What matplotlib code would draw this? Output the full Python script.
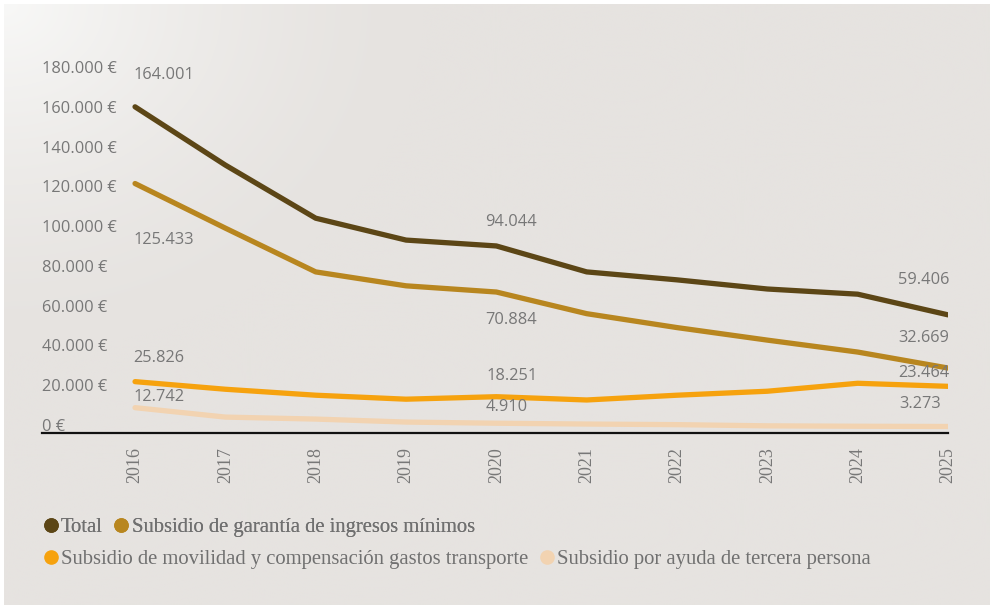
import numpy as np
import matplotlib
matplotlib.use("Agg")
import matplotlib.pyplot as plt
from matplotlib.lines import Line2D
import matplotlib.transforms as mtransforms

# datos
years = ["2016", "2017", "2018", "2019", "2020", "2021", "2022", "2023", "2024", "2025"]
total = [164001, 134700, 108000, 97000, 94044, 81000, 77000, 72400, 69800, 59406]
garantia = [125433, 103000, 81000, 74000, 70884, 60000, 53000, 46700, 40700, 32669]
movilidad = [25826, 22000, 19000, 17000, 18251, 16600, 19000, 21000, 25000, 23464]
tercera = [12742, 8000, 7000, 5500, 4910, 4500, 4200, 3600, 3400, 3273]

names = ["Total",
         "Subsidio de garantía de ingresos mínimos",
         "Subsidio de movilidad y compensación gastos transporte",
         "Subsidio por ayuda de tercera persona"]
colors = ["#5c4616", "#b8861f", "#f6a20e", "#f2d3b1"]
yticks = [0, 20000, 40000, 60000, 80000, 100000, 120000, 140000, 160000, 180000]

# etiquetas: índice del punto -> (dx, dy, ha) en píxeles
label_pos = [
    {0: (-2, 32, "left"), 4: (-11, 24, "left"), 9: (1, 35, "right")},
    {0: (-2, -56, "left"), 4: (-11, -28, "left"), 9: (1, 30, "right")},
    {0: (-2, 24, "left"), 4: (-10, 21, "left"), 9: (1, 13, "right")},
    {0: (-2, 11, "left"), 4: (-11, 16, "left"), 9: (-7, 22, "right")},
]

W, H = 990, 605
fig = plt.figure(figsize=(W / 100, H / 100), dpi=100, facecolor="white")

# fondo con degradado
bg = fig.add_axes([4 / W, 0, 1 - 4 / W, 1 - 4 / H])
yy, xx = np.mgrid[0:H, 0:W]
r = np.sqrt(xx ** 2 + (yy * 1.2) ** 2)
t = np.clip(1 - r / 420, 0, 1) ** 1.5
base = np.array([230, 227, 224]) / 255
light = np.array([248, 248, 247]) / 255
img = base[None, None, :] + (light - base)[None, None, :] * t[:, :, None]
bg.imshow(img, aspect="auto", extent=[0, 1, 0, 1])
bg.axis("off")

ax = fig.add_axes([42 / W, (H - 433) / H, (948 - 42) / W, (433 - 75) / H])
ax.patch.set_alpha(0)

series = [total, garantia, movilidad, tercera]
x = np.arange(len(years))
for s, c in zip(series, colors):
    ax.plot(x, s, color=c, lw=3.8, solid_capstyle="round", solid_joinstyle="round")

for s, pos in zip(series, label_pos):
    for i, (dx, dy, ha) in pos.items():
        ax.annotate(f"{s[i]:,}".replace(",", "."), (x[i], s[i]),
                    xytext=(dx, dy), textcoords="offset pixels",
                    ha=ha, va="center", fontsize=11.8, family="Open Sans",
                    color="#777777")

ax.set_xlim(-1.03, 9)
ax.set_ylim(0, 180000)
for sp in ["top", "right", "left"]:
    ax.spines[sp].set_visible(False)
ax.spines["bottom"].set_linewidth(1.6)
ax.spines["bottom"].set_color("#111111")

ax.set_xticks(x)
ax.set_xticklabels(years, rotation=90, family="Liberation Serif", fontsize=13,
                   color="#777777")
ax.tick_params(axis="x", length=0, pad=10)

ax.set_yticks(yticks)
ax.set_yticklabels([f"{v:,} €".replace(",", ".") for v in yticks],
                   family="Open Sans", fontsize=11.8, color="#777777")
ax.tick_params(axis="y", length=0, pad=0)
off = mtransforms.ScaledTranslation(0, 8 / 100, fig.dpi_scale_trans)
for lab in ax.get_yticklabels():
    lab.set_horizontalalignment("left")
    lab.set_transform(lab.get_transform() + off)

handles = [Line2D([], [], ls="", marker="o", markersize=9.5, color=c) for c in colors]
leg_kw = dict(frameon=False, ncol=2, handletextpad=0.15, columnspacing=0.55,
              handlelength=0.7, borderaxespad=0, loc="center left",
              prop={"family": "Liberation Serif", "size": 14.9},
              labelcolor="#707070")
leg1 = fig.legend(handles[:2], names[:2], bbox_to_anchor=(35 / W, 1 - 527 / H), **leg_kw)
fig.add_artist(leg1)
fig.legend(handles[2:], names[2:], bbox_to_anchor=(35 / W, 1 - 559 / H), **leg_kw)

fig.savefig("out.png", dpi=100)
